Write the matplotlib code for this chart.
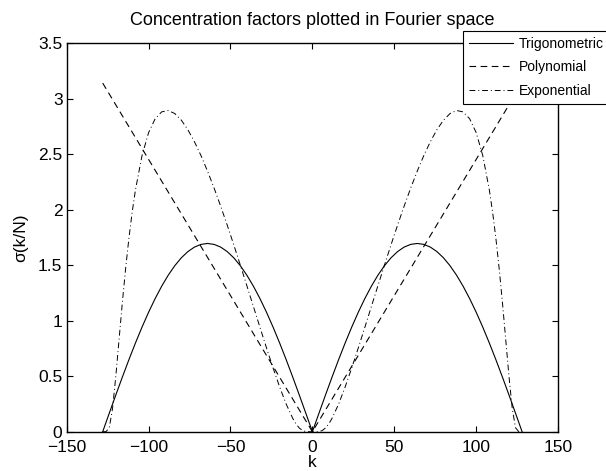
import numpy as np
import matplotlib
matplotlib.use("Agg")
import matplotlib.pyplot as plt

plt.rcParams['font.family'] = ['Liberation Sans', 'DejaVu Sans']

N = 128

# trigonometric factor, k >= 0 (curve is even in k)
k_trig = [0, 4, 8, 12, 16, 20, 24, 28, 32, 36, 40, 44, 48, 52, 56, 60, 64,
          68, 72, 76, 80, 84, 88, 92, 96, 100, 104, 108, 112, 116, 120, 124, 128]
s_trig = [0, 0.1663, 0.3309, 0.4924, 0.6492, 0.7997, 0.9425, 1.0762, 1.1995,
          1.3113, 1.4105, 1.4961, 1.5673, 1.6233, 1.6638, 1.6882, 1.6964,
          1.6882, 1.6638, 1.6233, 1.5673, 1.4961, 1.4105, 1.3113, 1.1995,
          1.0762, 0.9425, 0.7997, 0.6492, 0.4924, 0.3309, 0.1663, 0]

# polynomial (first order) factor
k_poly = [0, 128]
s_poly = [0, 3.1416]

# exponential factor
k_exp = [0, 2, 4, 6, 8, 10, 12, 16, 20, 24, 28, 32, 36, 40, 44, 48, 52, 56, 60,
         64, 68, 72, 76, 80, 84, 88, 92, 96, 100, 104, 108, 110, 112, 114, 116,
         118, 120, 122, 124, 126, 128]
s_exp = [0, 0.0000, 0.0012, 0.0103, 0.0333, 0.0706, 0.1206, 0.2491, 0.4037,
         0.5743, 0.7545, 0.9400, 1.1279, 1.3158, 1.5018, 1.6844, 1.8619, 2.0327,
         2.1954, 2.3479, 2.4881, 2.6135, 2.7212, 2.8073, 2.8671, 2.8947, 2.8823,
         2.8200, 2.6946, 2.4885, 2.1799, 1.9789, 1.7438, 1.4718, 1.1656, 0.8334,
         0.4987, 0.2090, 0.0360, 0.0002, 0]


def both_sides(k, s):
    k = np.asarray(k, float)
    s = np.asarray(s, float)
    return np.concatenate([-k[::-1], k[1:]]), np.concatenate([s[::-1], s[1:]])


fig = plt.figure(figsize=(6.06, 4.71), dpi=100)
ax = fig.add_axes([0.110, 0.0834, 0.811, 0.8246])

x, y = both_sides(k_trig, s_trig)
ax.plot(x, y, color='black', lw=0.8, label='Trigonometric')
x, y = both_sides(k_poly, s_poly)
ax.plot(x, y, color='black', lw=0.8, dashes=(6, 4), label='Polynomial')
x, y = both_sides(k_exp, s_exp)
ax.plot(x, y, color='black', lw=0.7, dashes=(6, 3, 1, 3), label='Exponential')

ax.set_xlim(-150, 150)
ax.set_ylim(0, 3.5)
ax.set_xticks(np.arange(-150, 151, 50))
ax.set_yticks(np.arange(0, 3.51, 0.5))
ax.set_yticklabels(['0', '0.5', '1', '1.5', '2', '2.5', '3', '3.5'])
ax.tick_params(direction='in', top=True, right=True, labelsize=12.5, length=4)
ax.tick_params(axis='x', pad=6)
ax.tick_params(axis='y', pad=3)
for sp in ax.spines.values():
    sp.set_linewidth(1.0)

ax.set_xlabel('k', fontsize=12.5, labelpad=0)
ax.set_ylabel('σ(k/N)', fontsize=12.5, labelpad=7)
ax.set_title('Concentration factors plotted in Fourier space', fontsize=13, pad=13)

leg = ax.legend(loc='upper left', bbox_to_anchor=(463 / 606, 1 - 31 / 471),
                bbox_transform=fig.transFigure, borderaxespad=0, fontsize=10,
                handlelength=3.2, handletextpad=0.4, labelspacing=0.7,
                fancybox=False, framealpha=1, edgecolor='black')
leg.get_frame().set_linewidth(0.8)

fig.savefig('out.png', dpi=100)
